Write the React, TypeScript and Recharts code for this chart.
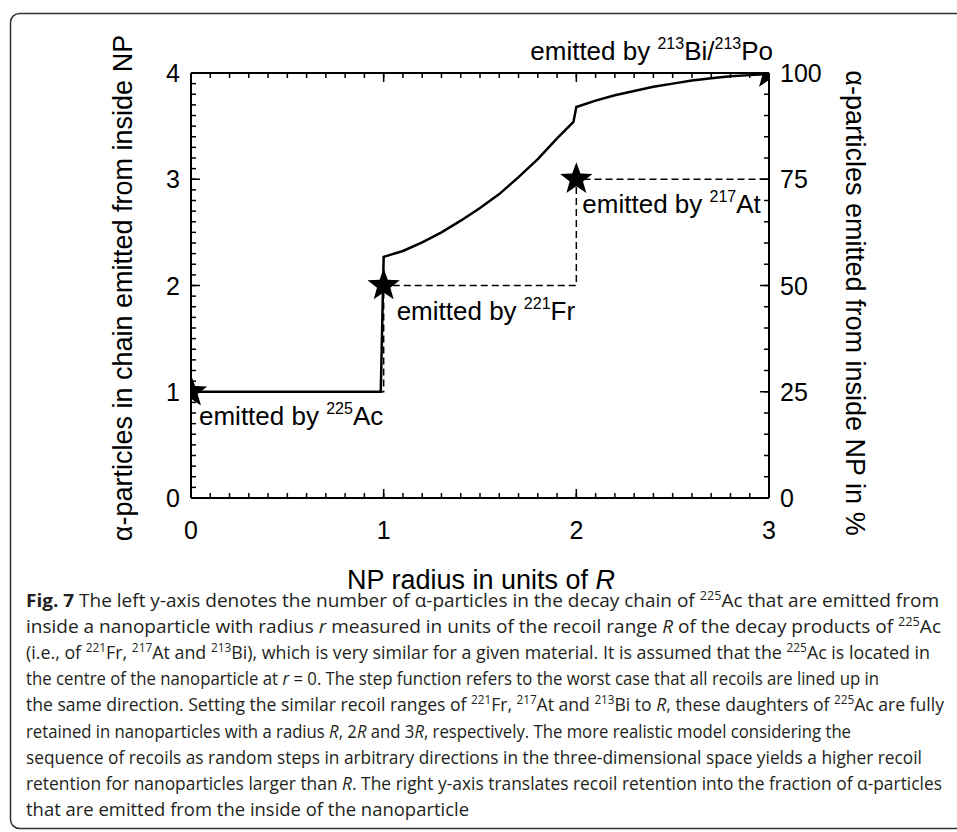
import React from 'react';
import { ComposedChart, Line, Scatter, XAxis, YAxis } from 'recharts';

// realistic model curve
const modelRadius = [0, 0.985, 1.0, 1.1, 1.2, 1.3, 1.4, 1.5, 1.6, 1.7, 1.8, 1.9, 1.985, 2.0, 2.1, 2.2, 2.3, 2.4, 2.5, 2.6, 2.7, 2.8, 2.9, 3.0];
const modelAlpha = [1, 1, 2.27, 2.325, 2.405, 2.5, 2.61, 2.73, 2.86, 3.02, 3.19, 3.385, 3.54, 3.68, 3.74, 3.79, 3.83, 3.87, 3.9, 3.93, 3.95, 3.97, 3.98, 3.99];

// worst case step function
const stepRadius = [0, 1, 1, 2, 2, 3, 3];
const stepAlpha = [1, 1, 2, 2, 3, 3, 4];

// stars marking the emitters
const starRadius = [0, 1, 2, 3];
const starAlpha = [1, 2, 3, 4];

const xMajor = [0, 1, 2, 3];
const yMajor = [0, 1, 2, 3, 4];
const pctMajor = [0, 25, 50, 75, 100];

const xTicks = Array.from({ length: 31 }, (_, i) => i / 10);
const yTicks = Array.from({ length: 41 }, (_, i) => i / 10);
const pctTicks = Array.from({ length: 21 }, (_, i) => i * 5);

const modelData = modelRadius.map((r, i) => ({ r, n: modelAlpha[i] }));
const stepData = stepRadius.map((r, i) => ({ r, n: stepAlpha[i] }));
const starData = starRadius.map((r, i) => ({ r, n: starAlpha[i] }));

const FONT = '"Liberation Sans", Arial, Helvetica, sans-serif';
const CAP_FONT = '"Open Sans", "Noto Sans", sans-serif';

const W = 957;
const CH = 600;
const PLOT = { left: 191, top: 73, right: 769, bottom: 498 };
const MINOR = 5;
const MAJOR = 9;

const px = (r: number) => PLOT.left + (r / 3) * (PLOT.right - PLOT.left);
const py = (n: number) => PLOT.bottom - (n / 4) * (PLOT.bottom - PLOT.top);

// tick (x, y) arrives on the axis line; minor ticks come from tickLine, majors are lengthened here
const BottomTick = (props: any) => {
  const { x, y, payload } = props;
  const v = payload.value;
  if (!xMajor.includes(v)) return <g />;
  return (
    <g>
      <path d={`M${x},${y}V${y - MAJOR}`} stroke="#000" strokeWidth={1.5} fill="none" />
      <text x={x} y={y + 41} textAnchor="middle" fontSize={25} fontFamily={FONT} fill="#000">
        {v}
      </text>
    </g>
  );
};

const TopTick = (props: any) => {
  const { x, y, payload } = props;
  if (!xMajor.includes(payload.value)) return <g />;
  return <path d={`M${x},${y}V${y + MAJOR}`} stroke="#000" strokeWidth={1.5} fill="none" />;
};

const LeftTick = (props: any) => {
  const { x, y, payload } = props;
  const v = payload.value;
  if (!yMajor.includes(v)) return <g />;
  return (
    <g>
      <path d={`M${x},${y}H${x + MAJOR}`} stroke="#000" strokeWidth={1.5} fill="none" />
      <text x={x - 11} y={y + 9} textAnchor="end" fontSize={25} fontFamily={FONT} fill="#000">
        {v}
      </text>
    </g>
  );
};

const RightTick = (props: any) => {
  const { x, y, payload } = props;
  const v = payload.value;
  if (!pctMajor.includes(v)) return <g />;
  return (
    <g>
      <path d={`M${x},${y}H${x - MAJOR}`} stroke="#000" strokeWidth={1.5} fill="none" />
      <text x={x + 11} y={y + 9} textAnchor="start" fontSize={25} fontFamily={FONT} fill="#000">
        {v}
      </text>
    </g>
  );
};

const Star = (props: any) => {
  const { cx, cy } = props;
  const outer = 17;
  const inner = 7;
  const pts: string[] = [];
  for (let i = 0; i < 10; i++) {
    const rad = i % 2 === 0 ? outer : inner;
    const a = -Math.PI / 2 + (i * Math.PI) / 5;
    pts.push(`${cx + rad * Math.cos(a)},${cy + rad * Math.sin(a)}`);
  }
  return <polygon points={pts.join(' ')} fill="#000" />;
};

// superscripted isotope, e.g. 225Ac
const iso = (m: string, el: string, size: number, rise: number) => (
  <>
    <tspan dy={-rise} fontSize={size}>{m}</tspan>
    <tspan dy={rise}>{el}</tspan>
  </>
);

const it = (s: string) => <tspan fontStyle="italic">{s}</tspan>;

const capIso = (m: string, el: string) => iso(m, el, 12, 7);
const chartIso = (m: string, el: string) => iso(m, el, 16, 11);

const captionEnds = [939, 941, 930, 879, 944, 851, 922, 942, 469];
const captionLines = [
  <>
    <tspan fontWeight="bold">Fig. 7</tspan>
    {' The left y-axis denotes the number of α-particles in the decay chain of '}
    {capIso('225', 'Ac that are emitted from')}
  </>,
  <>
    {'inside a nanoparticle with radius '}
    {it('r')}
    {' measured in units of the recoil range '}
    {it('R')}
    {' of the decay products of '}
    {capIso('225', 'Ac')}
  </>,
  <>
    {'(i.e., of '}
    {capIso('221', 'Fr, ')}
    {capIso('217', 'At and ')}
    {capIso('213', 'Bi), which is very similar for a given material. It is assumed that the ')}
    {capIso('225', 'Ac is located in')}
  </>,
  <>
    {'the centre of the nanoparticle at '}
    {it('r')}
    {' = 0. The step function refers to the worst case that all recoils are lined up in'}
  </>,
  <>
    {'the same direction. Setting the similar recoil ranges of '}
    {capIso('221', 'Fr, ')}
    {capIso('217', 'At and ')}
    {capIso('213', 'Bi to ')}
    {it('R')}
    {', these daughters of '}
    {capIso('225', 'Ac are fully')}
  </>,
  <>
    {'retained in nanoparticles with a radius '}
    {it('R')}
    {', 2'}
    {it('R')}
    {' and 3'}
    {it('R')}
    {', respectively. The more realistic model considering the'}
  </>,
  <>{'sequence of recoils as random steps in arbitrary directions in the three-dimensional space yields a higher recoil'}</>,
  <>
    {'retention for nanoparticles larger than '}
    {it('R')}
    {'. The right y-axis translates recoil retention into the fraction of α-particles'}
  </>,
  <>{'that are emitted from the inside of the nanoparticle'}</>,
];

export default function App() {
  const axisLine = { stroke: '#000', strokeWidth: 2 };
  const tickLine = { stroke: '#000', strokeWidth: 1.5 };
  const common = {
    interval: 0 as const,
    tickSize: -MINOR,
    tickMargin: MINOR,
    tickLine,
    axisLine,
    allowDataOverflow: true,
  };
  return (
    <div style={{ position: 'absolute', left: 0, top: 0, width: W, height: 832, background: '#fff', overflow: 'hidden' }}>
      <div style={{ position: 'absolute', left: 0, top: 0 }}>
        <ComposedChart
          width={W}
          height={CH}
          margin={{ top: PLOT.top - 1, left: PLOT.left - 1, right: W - PLOT.right - 1, bottom: CH - PLOT.bottom - 1 }}
        >
          <XAxis xAxisId="x" type="number" dataKey="r" domain={[0, 3]} ticks={xTicks} height={1} tick={BottomTick} {...common} />
          <XAxis xAxisId="top" orientation="top" type="number" dataKey="r" domain={[0, 3]} ticks={xTicks} height={1} tick={TopTick} {...common} />
          <YAxis yAxisId="l" type="number" dataKey="n" domain={[0, 4]} ticks={yTicks} width={1} tick={LeftTick} {...common} />
          <YAxis yAxisId="r" orientation="right" type="number" dataKey="p" domain={[0, 100]} ticks={pctTicks} width={1} tick={RightTick} {...common} />
          <Line
            xAxisId="x"
            yAxisId="l"
            data={stepData}
            dataKey="n"
            type="linear"
            stroke="#000"
            strokeWidth={1.5}
            strokeDasharray="7 4"
            dot={false}
            activeDot={false}
            isAnimationActive={false}
          />
          <Line
            xAxisId="x"
            yAxisId="l"
            data={modelData}
            dataKey="n"
            type="linear"
            stroke="#000"
            strokeWidth={2.5}
            dot={false}
            activeDot={false}
            isAnimationActive={false}
          />
          <Scatter xAxisId="x" yAxisId="l" data={starData} dataKey="n" shape={Star} isAnimationActive={false} />
        </ComposedChart>
      </div>
      <svg width={W} height={832} style={{ position: 'absolute', left: 0, top: 0, pointerEvents: 'none' }}>
        <rect x={10.5} y={13.5} width={1000} height={815} rx={9} fill="none" stroke="#333" strokeWidth={1.5} />
        <g fontFamily={FONT} fill="#000">
          <text x={px(0) + 8} y={py(1) + 33} fontSize={26}>
            {'emitted by '}
            {chartIso('225', 'Ac')}
          </text>
          <text x={px(1) + 13} y={py(2) + 34} fontSize={26}>
            {'emitted by '}
            {chartIso('221', 'Fr')}
          </text>
          <text x={px(2) + 6} y={py(3) + 34} fontSize={26}>
            {'emitted by '}
            {chartIso('217', 'At')}
          </text>
          <text x={px(3) + 4} y={py(4) - 13} fontSize={26} textAnchor="end">
            {'emitted by '}
            {chartIso('213', 'Bi/')}
            {chartIso('213', 'Po')}
          </text>
          <text x={481} y={589} fontSize={27} textAnchor="middle">
            {'NP radius in units of '}
            <tspan fontStyle="italic">R</tspan>
          </text>
          <text transform="translate(132,288) rotate(-90)" fontSize={27} textAnchor="middle">
            α-particles in chain emitted from inside NP
          </text>
          <text transform="translate(846,303) rotate(90)" fontSize={27} textAnchor="middle">
            α-particles emitted from inside NP in %
          </text>
        </g>
        <g fontFamily={CAP_FONT} fontSize={18} fill="#231f20">
          {captionLines.map((line, i) => (
            <text
              key={i}
              x={26}
              y={607 + i * 26.1}
              textLength={captionEnds[i] - 26}
              lengthAdjust="spacingAndGlyphs"
            >
              {line}
            </text>
          ))}
        </g>
      </svg>
    </div>
  );
}
